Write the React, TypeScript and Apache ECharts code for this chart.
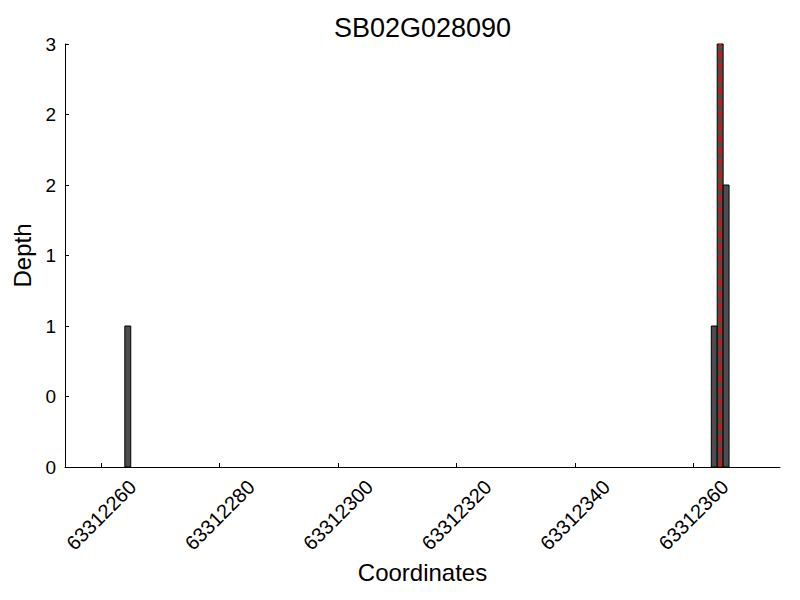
import React, { useEffect, useRef } from "react";
import * as echarts from "echarts";

const titleText = "SB02G028090";
const xName = "Coordinates";
const yName = "Depth";
// bin start positions and depths
const binStarts = [63312264, 63312363, 63312364, 63312365];
const depths = [1, 1, 3, 2];
const markerPos = [63312364.5];
const xTicks = [63312260, 63312280, 63312300, 63312320, 63312340, 63312360];
const xMin = 63312253.9;
const xMax = 63312374.6;
const yMin = 0;
const yMax = 3;
const yStep = 0.5;

const FONT = "Liberation Sans, Arial, Helvetica, sans-serif";

export default function App() {
  const ref = useRef<HTMLDivElement>(null);
  useEffect(() => {
    if (!ref.current) return;
    const chart = echarts.init(ref.current, null, { renderer: "svg" });
    const data = binStarts.map((s, i) => [s, depths[i]]);
    chart.setOption({
      animation: false,
      backgroundColor: "#ffffff",
      textStyle: { fontFamily: FONT },
      graphic: [
        {
          type: "text",
          x: 422.5,
          y: 28,
          style: {
            text: titleText,
            fill: "#000",
            font: `27px ${FONT}`,
            align: "center",
            verticalAlign: "middle",
          },
        },
      ],
      grid: {
        left: 65,
        right: 20,
        top: 44,
        bottom: 133,
        containLabel: false,
        outerBoundsMode: "none",
      },
      xAxis: {
        type: "value",
        min: xMin,
        max: xMax,
        name: xName,
        nameLocation: "middle",
        nameGap: 86,
        nameTextStyle: { fontSize: 24, color: "#000", fontFamily: FONT },
        axisLine: { show: true, onZero: false, lineStyle: { color: "#000", width: 1 } },
        axisTick: { show: true, inside: true, length: 4, customValues: xTicks, lineStyle: { color: "#000" } },
        axisLabel: {
          customValues: xTicks,
          rotate: 45,
          align: "center",
          verticalAlign: "middle",
          margin: 48,
          fontSize: 20,
          color: "#000",
          fontFamily: FONT,
          formatter: (v: number) => String(Math.round(v)),
        },
        splitLine: { show: false },
      },
      yAxis: {
        type: "value",
        min: yMin,
        max: yMax,
        interval: yStep,
        name: yName,
        nameLocation: "middle",
        nameGap: 26,
        nameTextStyle: { fontSize: 24, color: "#000", fontFamily: FONT },
        axisLine: { show: true, lineStyle: { color: "#000", width: 1 } },
        axisTick: { show: true, inside: true, length: 4, lineStyle: { color: "#000" } },
        axisLabel: {
          margin: 9,
          fontSize: 19,
          color: "#000",
          fontFamily: FONT,
          formatter: (v: number) => String(Math.floor(v)),
        },
        splitLine: { show: false },
      },
      series: [
        {
          type: "custom",
          data,
          renderItem: (params: any, api: any) => {
            const x0 = api.value(0);
            const v = api.value(1);
            const p0 = api.coord([x0, 0]);
            const p1 = api.coord([x0 + 1, v]);
            return {
              type: "rect",
              shape: { x: p0[0], y: p1[1], width: p1[0] - p0[0], height: p0[1] - p1[1] },
              style: { fill: "#4d4d4d", stroke: "#000", lineWidth: 1 },
            };
          },
          markLine: {
            silent: true,
            symbol: ["none", "none"],
            label: { show: false },
            lineStyle: { color: "#ff0000", type: [8, 4], width: 2 },
            data: markerPos.map((x) => ({ xAxis: x })),
          },
          z: 2,
        },
      ],
    });
    return () => chart.dispose();
  }, []);
  return (
    <div
      ref={ref}
      style={{ position: "fixed", left: 0, top: 0, width: 800, height: 600, background: "#fff" }}
    />
  );
}
